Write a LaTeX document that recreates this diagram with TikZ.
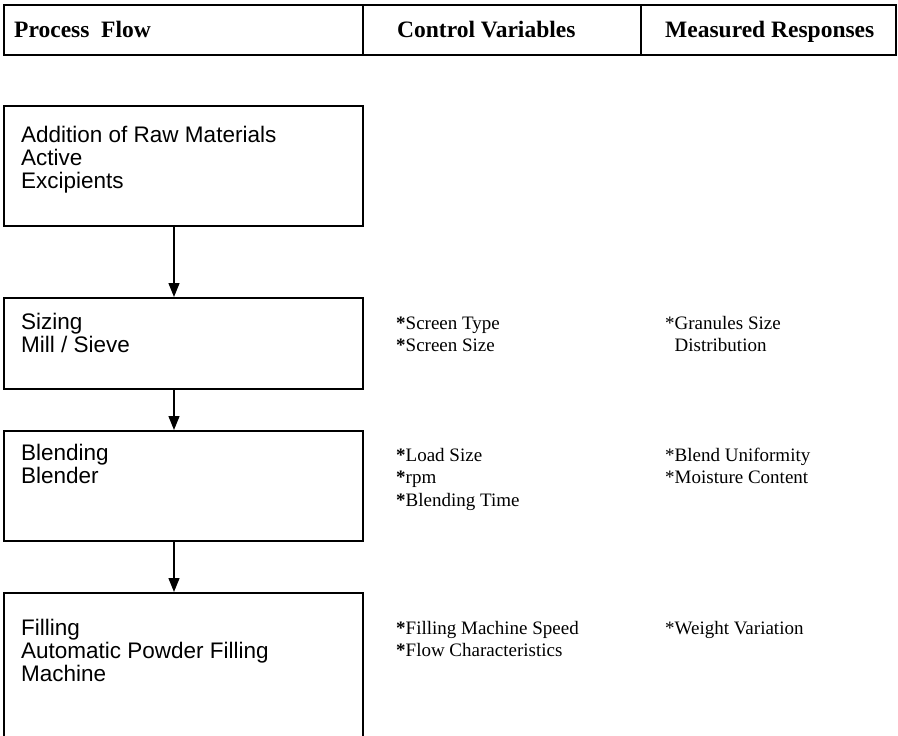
\documentclass[tikz,border=0pt]{standalone}
\usepackage{fontspec}
\setmainfont{Liberation Serif}
\newfontfamily\boxfont{Liberation Sans}
\usetikzlibrary{arrows.meta}
\newcommand{\mylines}[1]{\begin{tabular}[t]{@{}l@{}}#1\end{tabular}}
\tikzset{
  frame/.style={draw=black, line width=1.6pt, rectangle, inner sep=0pt},
  headcell/.style={frame, minimum height=50, anchor=north west},
  headtext/.style={anchor=base west, inner sep=0pt,
    font=\fontsize{23.5}{25}\selectfont\bfseries},
  stepbox/.style={frame, minimum width=359, anchor=north west},
  steptext/.style={anchor=base west, inner sep=0pt, font=\boxfont\fontsize{22.5}{23}\selectfont},
  vartext/.style={anchor=base west, inner sep=0pt, font=\fontsize{19}{22.5}\selectfont},
  flow/.style={draw=black, line width=1.3pt, -{Triangle[length=14pt,width=11pt]}}
}
\begin{document}
\begin{tikzpicture}[x=1pt,y=-1pt]
  \useasboundingbox (0,0) rectangle (898,736);
  \clip (0,0) rectangle (898,736);
  \fill[white] (0,0) rectangle (898,736);

  % column headings
  \node[headcell, minimum width=359] (h1) at (3,4) {};
  \node[headcell, minimum width=278] (h2) at (362,4) {};
  \node[headcell, minimum width=255] (h3) at (640,4) {};
  \node[headtext] (ht1) at (14,37) {Process\ \ Flow};
  \node[headtext] (ht2) at (397,37) {Control Variables};
  \node[headtext] (ht3) at (665,37) {Measured Responses};

  % process steps
  \node[stepbox, minimum height=120] (b1) at (3,105) {};
  \node[stepbox, minimum height=91]  (b2) at (3,297) {};
  \node[stepbox, minimum height=110] (b3) at (3,430) {};
  \node[stepbox, minimum height=170] (b4) at (3,592) {};

  \node[steptext] (t1) at (21,142) {\mylines{Addition of Raw Materials\\Active\\Excipients}};
  \node[steptext] (t2) at (21,329) {\mylines{Sizing\\Mill / Sieve}};
  \node[steptext] (t3) at (21,460) {\mylines{Blending\\Blender}};
  \node[steptext] (t4) at (21,635) {\mylines{Filling\\Automatic Powder Filling\\Machine}};

  % flow arrows
  \coordinate (ax) at (174,0);
  \draw[flow] (b1.south -| ax) -- (b2.north -| ax);
  \draw[flow] (b2.south -| ax) -- (b3.north -| ax);
  \draw[flow] (b3.south -| ax) -- (b4.north -| ax);

  % control variables
  \node[vartext] (c2) at (396,329) {\mylines{\textbf{*}Screen Type\\\textbf{*}Screen Size}};
  \node[vartext] (c3) at (396,461) {\mylines{\textbf{*}Load Size\\\textbf{*}rpm\\\textbf{*}Blending Time}};
  \node[vartext] (c4) at (396,634) {\mylines{\textbf{*}Filling Machine Speed\\\textbf{*}Flow Characteristics}};

  % measured responses
  \node[vartext] (m2) at (665,329) {\mylines{{}*Granules Size\\\ \ Distribution}};
  \node[vartext] (m3) at (665,461) {\mylines{{}*Blend Uniformity\\{}*Moisture Content}};
  \node[vartext] (m4) at (665,634) {*Weight Variation};
\end{tikzpicture}
\end{document}
